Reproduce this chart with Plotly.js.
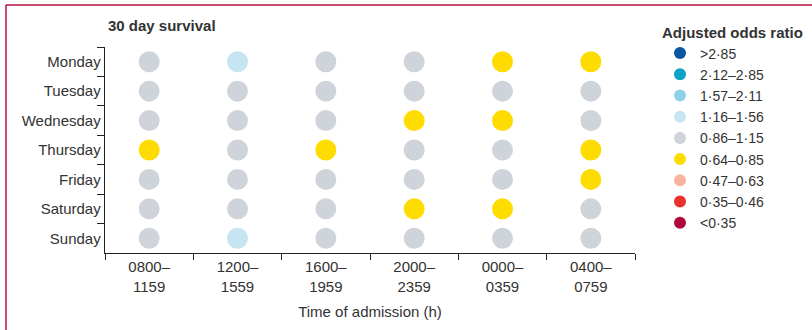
<!DOCTYPE html>
<html>
<head>
<meta charset="utf-8">
<script src="https://cdn.plot.ly/plotly-3.0.1.min.js"></script>
<style>html,body{margin:0;padding:0;background:#fff;}#chart{width:812px;height:330px;}</style>
</head>
<body>
<div id="chart"></div>
<script>
// ---- data ----
const days = ["Monday", "Tuesday", "Wednesday", "Thursday", "Friday", "Saturday", "Sunday"];
const times = ["0800–<br>1159", "1200–<br>1559", "1600–<br>1959", "2000–<br>2359", "0000–<br>0359", "0400–<br>0759"];
const oddsBins = [">2·85", "2·12–2·85", "1·57–2·11", "1·16–1·56", "0·86–1·15", "0·64–0·85", "0·47–0·63", "0·35–0·46", "<0·35"];
const binColors = ["#0a55a0", "#0aa2c8", "#8ed1e6", "#c6e5f0", "#cfd3da", "#ffdc00", "#f8b49c", "#e8312a", "#b0083c"];
// bin index (into oddsBins) for each day (row) x time (column)
const monday    = [4, 3, 4, 4, 5, 5];
const tuesday   = [4, 4, 4, 4, 4, 4];
const wednesday = [4, 4, 4, 5, 5, 4];
const thursday  = [5, 4, 5, 4, 4, 5];
const friday    = [4, 4, 4, 4, 4, 5];
const saturday  = [4, 4, 4, 5, 5, 4];
const sunday    = [4, 3, 4, 4, 4, 4];
const grid = [monday, tuesday, wednesday, thursday, friday, saturday, sunday];

const FONT = "'Liberation Sans Narrow', 'Liberation Sans', Arial, sans-serif";
const W = 812, H = 330;
const M = {l: 105, r: 177, t: 47, b: 77, autoexpand: false};
const pw = W - M.l - M.r, ph = H - M.t - M.b;
const px = x => (x - M.l) / pw;
const py = y => (H - M.b - y) / ph;

const traces = oddsBins.map((bin, k) => {
  const xs = [], ys = [];
  grid.forEach((row, i) => row.forEach((v, j) => { if (v === k) { xs.push(times[j]); ys.push(days[i]); } }));
  if (xs.length === 0) { xs.push(null); ys.push(null); }
  return {
    type: "scatter", mode: "markers", name: bin, x: xs, y: ys,
    marker: {color: binColors[k], size: 21, line: {width: 0}},
    hoverinfo: "name"
  };
});

const layout = {
  width: W, height: H,
  margin: M,
  paper_bgcolor: "#fff", plot_bgcolor: "#fff",
  font: {family: FONT, size: 15, color: "#333"},
  showlegend: true,
  legend: {
    x: px(660), y: py(18), xanchor: "left", yanchor: "top",
    title: {text: "<b>Adjusted odds ratio</b>", font: {size: 15, color: "#333"}},
    font: {size: 14, color: "#333"},
    itemsizing: "constant", tracegroupgap: 0, itemclick: false,
    maxheight: 400
  },
  xaxis: {
    type: "category", categoryorder: "array", categoryarray: times,
    range: [-0.5, 5.5], tickson: "boundaries", ticks: "outside", ticklen: 6, tickcolor: "#222",
    showline: true, linecolor: "#222", linewidth: 1.3, showgrid: false, zeroline: false,
    tickfont: {size: 15, color: "#333"},
    title: {text: "Time of admission (h)", font: {size: 15, color: "#333"}, standoff: 12}
  },
  yaxis: {
    type: "category", categoryorder: "array", categoryarray: days,
    range: [6.5, -0.5], tickson: "boundaries", ticks: "outside", ticklen: 7, tickcolor: "#222",
    showline: true, linecolor: "#222", linewidth: 1.3, showgrid: false, zeroline: false,
    tickfont: {size: 15, color: "#333"}
  },
  annotations: [{
    text: "<b>30 day survival</b>", xref: "paper", yref: "paper",
    x: px(106), y: py(25), xanchor: "left", yanchor: "middle", showarrow: false,
    font: {size: 15, color: "#333"}
  }],
  shapes: [
    {type: "line", xref: "paper", yref: "paper", x0: px(6), x1: px(812), y0: py(5), y1: py(5), line: {color: "#b5123e", width: 1.5}},
    {type: "line", xref: "paper", yref: "paper", x0: px(6), x1: px(6), y0: py(5), y1: py(330), line: {color: "#b5123e", width: 1.5}}
  ]
};

Plotly.newPlot("chart", traces, layout, {displayModeBar: false, staticPlot: true});
</script>
</body>
</html>
